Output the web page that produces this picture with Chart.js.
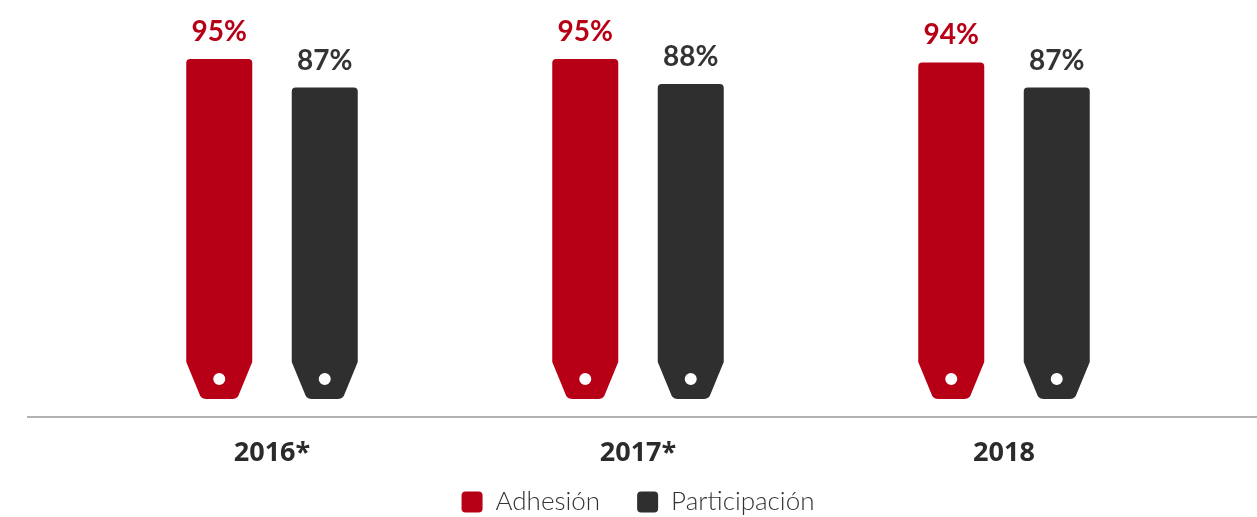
<!DOCTYPE html>
<html>
<head>
    <meta charset='utf-8'>
    <title>Adhesión y participación</title>
    <style>
        html, body { margin: 0; padding: 0; background: #fff; }
        #wrap { width: 1257px; height: 517px; }
    </style>
</head>
<body>
    <div id="wrap">
        <canvas id="myChart"></canvas>
    </div>

    <script src="https://cdn.jsdelivr.net/npm/chart.js"></script>
    <script>
const years = ['2016*', '2017*', '2018'];
const adhesion = [95, 95, 94];
const participacion = [87, 88, 87];

const RED = '#b70016';
const DARK = '#2f2f2f';

// dibuja la etiqueta (tag) en vez de la barra normal
function tagPath(ctx, bar) {
    const w = bar.width;
    const left = bar.x - w / 2;
    const right = bar.x + w / 2;
    const top = bar.y;
    const base = bar.base;
    const r = 4;
    const cut = 37;
    const inset = 16;
    ctx.beginPath();
    ctx.moveTo(left + r, top);
    ctx.lineTo(right - r, top);
    ctx.quadraticCurveTo(right, top, right, top + r);
    ctx.lineTo(right, base - cut);
    ctx.lineTo(right - inset + 2, base - 3);
    ctx.quadraticCurveTo(right - inset, base, right - inset - 4, base);
    ctx.lineTo(left + inset + 4, base);
    ctx.quadraticCurveTo(left + inset, base, left + inset - 2, base - 3);
    ctx.lineTo(left, base - cut);
    ctx.lineTo(left, top + r);
    ctx.quadraticCurveTo(left, top, left + r, top);
    ctx.closePath();
    ctx.moveTo(bar.x + 6, base - 20);
    ctx.arc(bar.x, base - 20, 6, 0, Math.PI * 2, true);
}

const tagPlugin = {
    id: 'tags',
    afterLayout(chart) {
        // sube la leyenda para que quede justo debajo de los años
        const lg = chart.legend;
        const dy = lg.top + 37 + 13 - 502;
        lg.top -= dy;
        lg.bottom -= dy;
    },
    beforeDatasetDraw(chart, args) {
        const ctx = chart.ctx;
        const color = chart.data.datasets[args.index].backgroundColor;
        ctx.save();
        ctx.fillStyle = color;
        args.meta.data.forEach(bar => {
            tagPath(ctx, bar);
            ctx.fill('evenodd');
        });
        ctx.restore();
        return false;
    },
    afterDatasetsDraw(chart) {
        const ctx = chart.ctx;
        ctx.save();
        ctx.font = 'bold 28px Lato';
        ctx.textAlign = 'center';
        ctx.textBaseline = 'alphabetic';
        chart.data.datasets.forEach((ds, i) => {
            const meta = chart.getDatasetMeta(i);
            ctx.fillStyle = i === 0 ? RED : '#333333';
            meta.data.forEach((bar, j) => {
                ctx.fillText(ds.data[j] + '%', bar.x, bar.y - 18);
            });
        });
        // linea base
        const y = chart.chartArea.bottom + 18;
        ctx.strokeStyle = '#9a9a9a';
        ctx.lineWidth = 1.5;
        ctx.beginPath();
        ctx.moveTo(27, y);
        ctx.lineTo(chart.width, y);
        ctx.stroke();
        ctx.restore();
    }
};

new Chart(document.getElementById('myChart'), {
    type: 'bar',
    data: {
        labels: years,
        datasets: [
            { label: 'Adhesión', data: adhesion, backgroundColor: RED },
            { label: 'Participación', data: participacion, backgroundColor: DARK }
        ]
    },
    options: {
        responsive: true,
        maintainAspectRatio: false,
        animation: false,
        categoryPercentage: 0.5765,
        barPercentage: 0.6256,
        layout: { padding: { left: 89, right: 70, top: 41, bottom: -25 } },
        scales: {
            x: {
                grid: { display: false, drawTicks: false },
                border: { display: false },
                ticks: {
                    padding: 38,
                    color: '#2b2b2b',
                    font: { family: 'Open Sans', size: 27, weight: 'bold' }
                },
                afterFit(scale) {
                    scale.height = 70;
                }
            },
            y: {
                display: false,
                min: 0,
                max: 100
            }
        },
        plugins: {
            tooltip: { enabled: false },
            legend: {
                position: 'bottom',
                labels: {
                    color: '#333333',
                    boxWidth: 21,
                    boxHeight: 21,
                    useBorderRadius: true,
                    borderRadius: 4,
                    padding: 37,
                    font: { family: 'Lato', size: 26, weight: 300 }
                }
            }
        }
    },
    plugins: [tagPlugin]
});
    </script>
</body>
</html>
